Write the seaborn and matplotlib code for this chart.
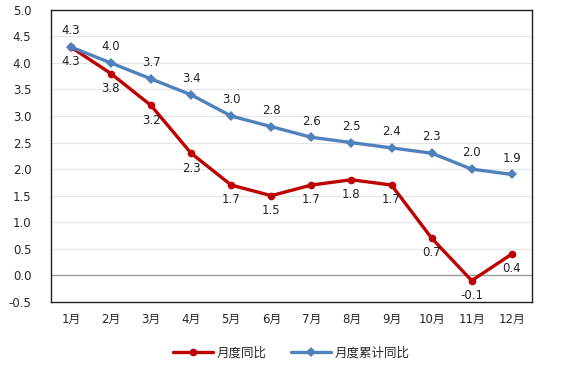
import numpy as np
import pandas as pd
import matplotlib
matplotlib.use("Agg")
import matplotlib.pyplot as plt
import seaborn as sns

# 数据
months = ["1月", "2月", "3月", "4月", "5月", "6月", "7月", "8月", "9月", "10月", "11月", "12月"]
monthly = [4.3, 3.8, 3.2, 2.3, 1.7, 1.5, 1.7, 1.8, 1.7, 0.7, -0.1, 0.4]
cumulative = [4.3, 4.0, 3.7, 3.4, 3.0, 2.8, 2.6, 2.5, 2.4, 2.3, 2.0, 1.9]
yticks = [-0.5, 0.0, 0.5, 1.0, 1.5, 2.0, 2.5, 3.0, 3.5, 4.0, 4.5, 5.0]

RED = "#C00000"
BLUE = "#4F81BD"
FS = 8.5

sns.set_style("white")
plt.rcParams["font.family"] = ["DejaVu Sans", "Noto Sans CJK SC"]

df = pd.DataFrame({"month": months, "月度同比": monthly, "月度累计同比": cumulative})
long = df.melt(id_vars="month", var_name="series", value_name="value")

fig = plt.figure(figsize=(5.64, 3.65), dpi=100)
ax = fig.add_axes([0.09, 0.173, 0.853, 0.8])

# 网格
for y in yticks:
    ax.axhline(y, color="#E4E4E4", linewidth=0.8, zorder=0)
ax.axhline(0, color="#A0A0A0", linewidth=1.0, zorder=1)

sns.lineplot(data=long, x="month", y="value", hue="series", style="series",
             palette={"月度同比": RED, "月度累计同比": BLUE},
             markers={"月度同比": "o", "月度累计同比": "D"},
             dashes=False, linewidth=2.4, markersize=5.5, markeredgewidth=0,
             sort=False, ax=ax, zorder=3)

# 数据标签
for i, (m, c) in enumerate(zip(monthly, cumulative)):
    ax.annotate(f"{c:.1f}", (i, c), xytext=(0, 7), textcoords="offset points",
                ha="center", va="bottom", fontsize=FS, color="#222222")
    ax.annotate(f"{m:.1f}", (i, m), xytext=(0, -6), textcoords="offset points",
                ha="center", va="top", fontsize=FS, color="#222222")

ax.set_xlim(-0.5, len(months) - 0.5)
ax.set_ylim(-0.5, 5.0)
ax.set_yticks(yticks)
ax.set_yticklabels([f"{v:.1f}" for v in yticks], fontsize=FS)
ax.tick_params(axis="x", labelsize=FS, pad=8)
ax.tick_params(axis="y", pad=14)
ax.tick_params(length=0)
ax.set_xlabel("")
ax.set_ylabel("")
for s in ax.spines.values():
    s.set_color("#222222")
    s.set_linewidth(1.0)

ax.legend(loc="upper center", bbox_to_anchor=(0.5, -0.115), ncol=2, frameon=False,
          fontsize=9, handlelength=3.2, columnspacing=2.0, handletextpad=0.3)

fig.savefig("out.png", dpi=100)
